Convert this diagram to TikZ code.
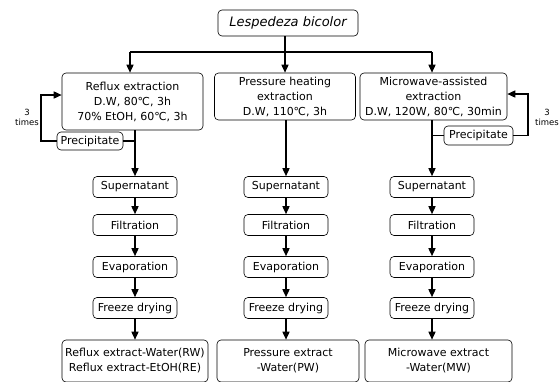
\documentclass[tikz,border=0pt]{standalone}
\usepackage{fontspec}
\setmainfont{DejaVu Sans}
\usetikzlibrary{arrows.meta}
\newcommand{\degc}{\char"2103}
\tikzset{box/.style={draw,rounded corners=4pt,line width=0.6pt,align=center,inner sep=1pt,font=\fontsize{11}{15}\selectfont},
         stepbox/.style={box,minimum width=84pt,minimum height=21pt},
         arr/.style={-{Triangle[length=8pt,width=7pt]},line width=1.5pt},
         link/.style={line width=1.5pt}}

\begin{document}
\begin{tikzpicture}[x=1pt,y=-1pt]
  \useasboundingbox (0,0) rectangle (560,381);
  % source
  \node[box,minimum width=140pt,minimum height=26pt,font=\fontsize{13}{15}\selectfont\itshape] (src) at (288,23) {Lespedeza bicolor};
  \coordinate (splitR) at (130,52);
  \coordinate (splitM) at (432,52);
  % extraction methods
  \node[box,minimum width=141pt,minimum height=57pt] (reflux) at (132.5,101.5) {Reflux extraction\\D.W, 80\degc, 3h\\70\% EtOH, 60\degc, 3h};
  \node[box,minimum width=141pt,minimum height=47pt] (press)  at (285,96.5) {Pressure heating\\extraction\\D.W, 110\degc, 3h};
  \node[box,minimum width=147pt,minimum height=47pt] (micro)  at (433.5,96.5) {Microwave-assisted\\extraction\\D.W, 120W, 80\degc, 30min};
  % precipitate loops
  \node[box,minimum width=66pt,minimum height=18pt] (precR) at (90,141) {Precipitate};
  \node[box,minimum width=69pt,minimum height=19pt] (precM) at (478.5,135.5) {Precipitate};
  \node[align=center,font=\fontsize{8.5}{10}\selectfont] (timesR) at (27,117) {3\\times};
  \node[align=center,font=\fontsize{8.5}{10}\selectfont] (timesM) at (547,117) {3\\times};
  \coordinate (loopR) at (41,95);
  \coordinate (loopM) at (528,94);
  % process steps
  \foreach \col/\x in {R/135,P/286,M/432}{
    \node[stepbox] (sup\col)    at (\x,187) {Supernatant};
    \node[stepbox] (filt\col)   at (\x,225) {Filtration};
    \node[stepbox] (evap\col)   at (\x,267) {Evaporation};
    \node[stepbox] (freeze\col) at (\x,308) {Freeze drying};
    \draw[arr] (sup\col) -- (filt\col);
    \draw[arr] (filt\col) -- (evap\col);
    \draw[arr] (evap\col) -- (freeze\col);
  }
  % products
  \node[box,minimum width=146pt,minimum height=42pt] (prodR) at (135,361) {Reflux extract-Water(RW)\\Reflux extract-EtOH(RE)};
  \node[box,minimum width=142pt,minimum height=42pt] (prodP) at (288,361) {Pressure extract\\-Water(PW)};
  \node[box,minimum width=147pt,minimum height=42pt] (prodM) at (438.5,361) {Microwave extract\\-Water(MW)};
  % connectors
  \draw[arr] (press.north |- src.south) -- (press.north);
  \draw[link] (splitR) -- (splitM);
  \draw[arr] (splitR) -- (splitR |- reflux.north);
  \draw[arr] (splitM) -- (splitM |- micro.north);
  \draw[arr] (supR |- reflux.south) -- (supR);
  \draw[arr] (supP |- press.south) -- (supP);
  \draw[arr] (supM |- micro.south) -- (supM);
  \draw[link] (precR.east) -- (precR.east -| supR);
  \draw[link] (precM.west) -- (precM.west -| supM);
  \draw[arr] (precR.west) -| (loopR) -- (loopR -| reflux.west);
  \draw[arr] (precM.east) -| (loopM) -- (loopM -| micro.east);
  \draw[arr] (freezeR) -- (freezeR |- prodR.north);
  \draw[arr] (freezeP) -- (freezeP |- prodP.north);
  \draw[arr] (freezeM) -- (freezeM |- prodM.north);
\end{tikzpicture}
\end{document}
